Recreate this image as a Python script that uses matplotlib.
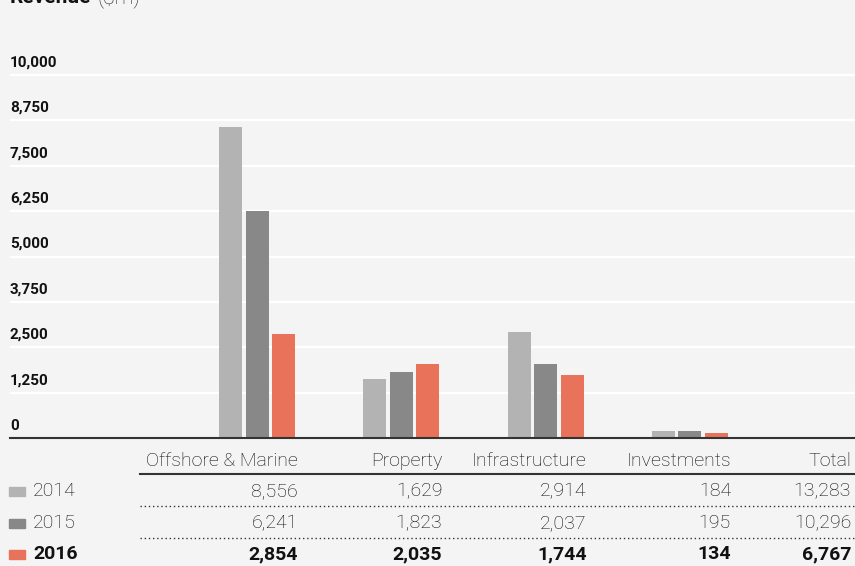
import matplotlib
matplotlib.use("Agg")
import matplotlib.pyplot as plt
from matplotlib.transforms import blended_transform_factory, offset_copy

categories = ["Offshore & Marine", "Property", "Infrastructure", "Investments"]
years = ["2014", "2015", "2016"]
values = {
    "2014": [8556, 1629, 2914, 184],
    "2015": [6241, 1823, 2037, 195],
    "2016": [2854, 2035, 1744, 134],
}
totals = {"2014": 13283, "2015": 10296, "2016": 6767}
yticks = [0, 1250, 2500, 3750, 5000, 6250, 7500, 8750, 10000]
colors = {"2014": "#b3b3b3", "2015": "#888888", "2016": "#e8735a"}

W, H = 855, 566
BG = "#f4f4f4"
FONT = "Roboto"
plt.rcParams["font.family"] = [FONT, "DejaVu Sans"]

fig = plt.figure(figsize=(W / 100, H / 100), dpi=100, facecolor=BG)

# axes: x from px 10 to 855; y bottom at px 438, 363 px per 10000
ymax = 10500
top_px = 438 - 363 * ymax / 10000
ax = fig.add_axes([10 / W, 1 - 438 / H, 845 / W, (438 - top_px) / H])
ax.set_facecolor(BG)
center0 = 257
step = 144.3
ax.set_xlim((10 - center0) / step, (855 - center0) / step)
ax.set_ylim(0, ymax)

for t in yticks[1:]:
    ax.axhline(t, color="white", lw=1.6, zorder=0)

bw = 23 / step
off = 26.5 / step
for k, yr in enumerate(years):
    xs = [i + (k - 1) * off for i in range(len(categories))]
    ax.bar(xs, values[yr], width=bw, color=colors[yr], zorder=2)

ax.axhline(0, color="#333333", lw=1.5, zorder=3, clip_on=False)

for s in ax.spines.values():
    s.set_visible(False)
ax.set_xticks([])
ax.set_yticks([])

# y tick labels (above gridlines)
tick_tr = offset_copy(blended_transform_factory(fig.transFigure, ax.transData),
                      fig=fig, x=0, y=12.5, units="dots")
for t in yticks:
    ax.text(10 / W, t, f"{t:,}", transform=tick_tr, ha="left", va="center",
            fontsize=11, fontweight="bold", color="#111111", clip_on=False)

# title (partially cut at top)
fig.text(10 / W, 1 - 3 / H, "Revenue", fontsize=15, fontweight="bold", color="#111111",
         ha="left", va="baseline")
fig.text(97 / W, 1 - 3 / H, "($m)", fontsize=15, fontweight="light", color="#222222",
         ha="left", va="baseline")

# table
tr = blended_transform_factory(ax.transData, fig.transFigure)
col_x = [i + 41 / step for i in range(len(categories))] + [(851 - center0) / step]
headers = categories + ["Total"]

def fy(py):
    return 1 - py / H

FS = 14
LIGHT_C = "#0a0a0a"
for x, h in zip(col_x, headers):
    fig.text(x, fy(461), h, transform=tr, ha="right", va="center", fontsize=FS,
             fontweight="light", color=LIGHT_C)

fig.add_artist(plt.Line2D([140 / W, 1], [fy(474), fy(474)], color="#333333", lw=1.5))

row_y = {"2014": 491, "2015": 523, "2016": 554}
for yr in years:
    py = row_y[yr]
    bold = yr == "2016"
    fig.add_artist(plt.Rectangle((9 / W, fy(py + 5)), 16 / W, 9 / H, color=colors[yr],
                                 transform=fig.transFigure))
    fig.text(33 / W, fy(py), yr, ha="left", va="center", fontsize=FS,
             fontweight="bold" if bold else "light", color="#111111" if bold else LIGHT_C)
    vals = values[yr] + [totals[yr]]
    for x, v in zip(col_x, vals):
        fig.text(x, fy(py), f"{v:,}", transform=tr, ha="right", va="center", fontsize=FS,
                 fontweight="bold" if bold else "light",
                 color="#111111" if bold else LIGHT_C)

for py in (506, 538):
    fig.add_artist(plt.Line2D([140 / W, 1], [fy(py), fy(py)], color="#333333", lw=1.0,
                              linestyle=(0, (1, 2))))

fig.savefig("out.png", dpi=100, facecolor=BG)
